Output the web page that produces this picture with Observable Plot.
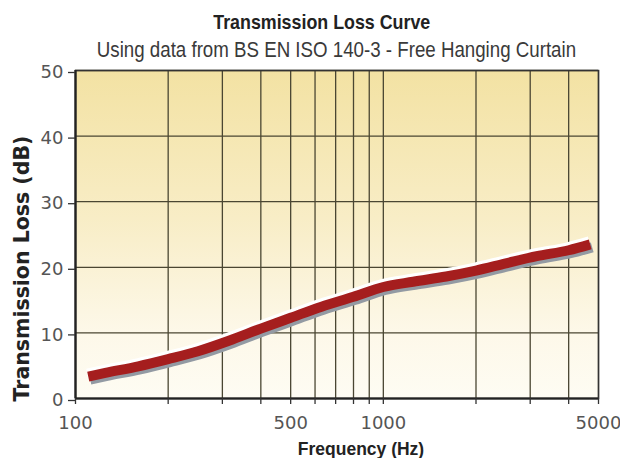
<!DOCTYPE html>
<html><head><meta charset="utf-8">
<script src="https://cdn.jsdelivr.net/npm/d3@7"></script>
<script src="https://cdn.jsdelivr.net/npm/@observablehq/plot@0.6"></script>
<style>
body{margin:0;background:#fff;width:620px;height:458px;overflow:hidden;position:relative}
.hd{position:absolute;width:620px;text-align:center;font-family:"Liberation Sans",Arial,sans-serif}
.hd span{display:inline-block;white-space:nowrap;transform-origin:50% 50%}
#title{left:12px;top:10px;font-weight:bold;font-size:20.5px;line-height:24px;color:#222}
#title span{transform:scaleX(0.87)}
#subtitle{left:26px;top:38px;font-size:21.5px;line-height:24px;color:#3a3a3a}
#subtitle span{transform:scaleX(0.87)}
#chart{position:absolute;left:0;top:58px}
</style></head>
<body>
<div id="title" class="hd"><span>Transmission Loss Curve</span></div>
<div id="subtitle" class="hd"><span>Using data from BS EN ISO 140-3 - Free Hanging Curtain</span></div>
<div id="chart"></div>
<script>
const freq = [110,125,160,200,250,315,400,500,630,800,1000,1250,1600,2000,2500,3150,4000,4700];
const loss = [3.35,3.9,4.9,6.0,7.2,8.8,10.65,12.3,14.0,15.5,17.0,17.8,18.6,19.5,20.6,21.7,22.6,23.5];
const xGrid = [100,200,300,400,500,600,700,800,900,1000,2000,3000,4000,5000];
const xLabels = [100,500,1000,5000];
const yTicks = [0,10,20,30,40,50];

const data = freq.map((f,i)=>({f, v: loss[i]}));
const curve = "monotone-x";

const chart = Plot.plot({
  width: 620, height: 400,
  marginTop: 12, marginBottom: 60, marginLeft: 75, marginRight: 22,
  style: {fontFamily: "DejaVu Sans, sans-serif", fontSize: "18px", background: "transparent"},
  x: {type: "log", domain: [100, 5000]},
  y: {domain: [0, 50]},
  marks: [
    Plot.frame({fill: "url(#bgGrad)", stroke: null}),
    Plot.ruleX(xGrid, {stroke: "#4a4632", strokeWidth: 1.3}),
    Plot.ruleY(yTicks, {stroke: "#4a4632", strokeWidth: 1.3}),
    Plot.frame({stroke: "#333", strokeWidth: 1.5}),
    Plot.ruleX([100], {stroke: "#222", strokeWidth: 2.2}),
    Plot.ruleY([0], {stroke: "#222", strokeWidth: 2.2}),
    Plot.axisX({ticks: xGrid, tickFormat: d => xLabels.includes(d) ? String(d) : "", tickSize: 6, tickPadding: 12, label: null, fill: "#555", stroke: "#333", strokeWidth: 1.3}),
    Plot.axisY({ticks: yTicks, tickSize: 7, tickPadding: 5, label: null, fill: "#555", stroke: "#333", strokeWidth: 1.3, dy: 2}),
    Plot.line(data, {x: "f", y: "v", stroke: "#ffffff", strokeWidth: 10, dx: -1, dy: -3, curve, strokeLinecap: "butt"}),
    Plot.line(data, {x: "f", y: "v", stroke: "#939aa3", strokeWidth: 10, dx: 2, dy: 3, curve, strokeLinecap: "butt"}),
    Plot.line(data, {x: "f", y: "v", stroke: "#a51e1e", strokeWidth: 10, curve, strokeLinecap: "butt"}),
    Plot.text(["Frequency (Hz)"], {frameAnchor: "bottom", lineAnchor: "middle", textAnchor: "middle", dx: 24, dy: 51, fontFamily: "Liberation Sans, Arial, sans-serif", fontWeight: "bold", fontSize: 17.5, fill: "#222"}),
    Plot.text(["Transmission Loss (dB)"], {frameAnchor: "left", textAnchor: "middle", lineAnchor: "middle", rotate: -90, dx: -53, dy: 34, fontFamily: "DejaVu Sans, sans-serif", fontWeight: "bold", fontSize: 20.5, fill: "#222"})
  ]
});

const ns = "http://www.w3.org/2000/svg";
const defs = document.createElementNS(ns, "defs");
defs.innerHTML = '<linearGradient id="bgGrad" x1="0" y1="0" x2="0" y2="1">' +
  '<stop offset="0" stop-color="#f3e2a3"/>' +
  '<stop offset="0.45" stop-color="#f8edc6"/>' +
  '<stop offset="0.8" stop-color="#fdf8e9"/>' +
  '<stop offset="1" stop-color="#fefcf3"/></linearGradient>';
chart.insertBefore(defs, chart.firstChild);
document.getElementById("chart").appendChild(chart);
</script>
</body></html>
